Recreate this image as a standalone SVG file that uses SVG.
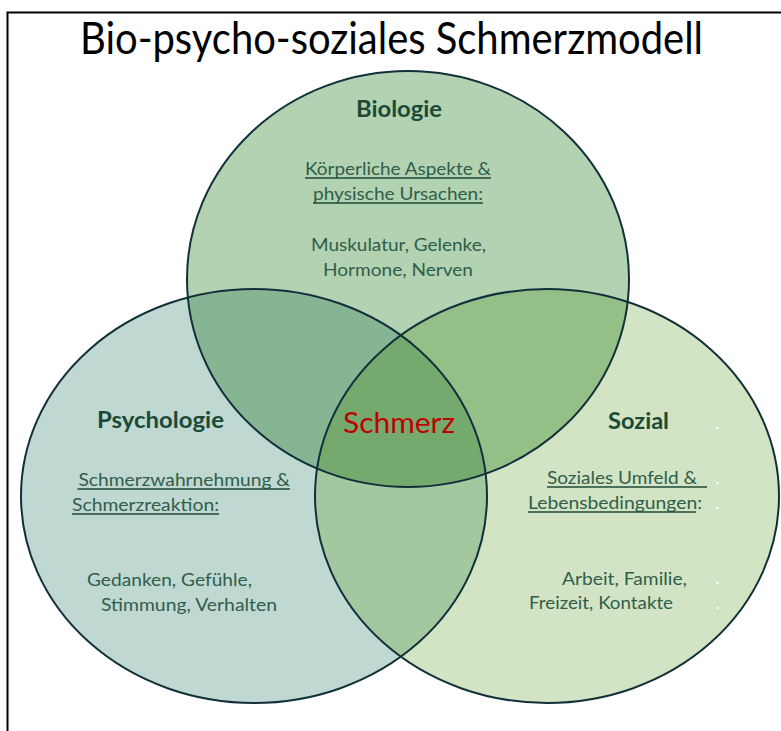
<svg xmlns="http://www.w3.org/2000/svg" width="781" height="731" viewBox="0 0 781 731">
<style>
.title{font-family:Lato,"Liberation Sans",sans-serif;font-size:44px;fill:#000}
.head{font-family:Lato,"Liberation Sans",sans-serif;font-size:23px;font-weight:bold;fill:#1b4a37}
.body{font-family:Lato,"Liberation Sans",sans-serif;font-size:17px;fill:#2f5e4b}
.center{font-family:Lato,"Liberation Sans",sans-serif;font-size:29px;fill:#c00000}
.ul{stroke:#1e4a3a;stroke-width:1.3}
.outline{fill:none;stroke:#12303a;stroke-width:2}
.dot{fill:#ffffff}
</style>
<defs>
<clipPath id="clipTop"><ellipse cx="408" cy="279" rx="221" ry="208"/></clipPath>
<clipPath id="clipLeft"><ellipse cx="254" cy="496" rx="233" ry="207"/></clipPath>
<clipPath id="clipRight"><ellipse cx="547" cy="496" rx="232" ry="207"/></clipPath>
</defs>
<rect width="781" height="731" fill="#ffffff"/>
<path d="M7.5,731 V12.5 H781" fill="none" stroke="#000" stroke-width="2"/>
<text class="title" x="80" y="54" textLength="623" lengthAdjust="spacingAndGlyphs">Bio-psycho-soziales Schmerzmodell</text>

<g id="fills">
<ellipse cx="254" cy="496" rx="233" ry="207" fill="#bfd8d2"/>
<ellipse cx="547" cy="496" rx="232" ry="207" fill="#d2e4c4"/>
<ellipse cx="408" cy="279" rx="221" ry="208" fill="#b3d2b2"/>
<ellipse cx="408" cy="279" rx="221" ry="208" fill="#86b594" clip-path="url(#clipLeft)"/>
<ellipse cx="408" cy="279" rx="221" ry="208" fill="#94bf87" clip-path="url(#clipRight)"/>
<ellipse cx="254" cy="496" rx="233" ry="207" fill="#a3c8a0" clip-path="url(#clipRight)"/>
<g clip-path="url(#clipLeft)">
<ellipse cx="408" cy="279" rx="221" ry="208" fill="#75aa6f" clip-path="url(#clipRight)"/>
</g>
</g>

<g id="connectors"></g>

<g id="node-biologie">
<ellipse class="outline" cx="408" cy="279" rx="221" ry="208"/>
<text class="head" x="356" y="116.5" textLength="86" lengthAdjust="spacingAndGlyphs">Biologie</text>
<text class="body" x="305" y="175" textLength="186" lengthAdjust="spacingAndGlyphs">Körperliche Aspekte &amp;</text>
<line class="ul" x1="305" y1="178" x2="491" y2="178"/>
<text class="body" x="313" y="200" textLength="170" lengthAdjust="spacingAndGlyphs">physische Ursachen:</text>
<line class="ul" x1="313" y1="203" x2="483" y2="203"/>
<text class="body" x="311" y="251" textLength="175" lengthAdjust="spacingAndGlyphs">Muskulatur, Gelenke,</text>
<text class="body" x="323" y="276" textLength="150" lengthAdjust="spacingAndGlyphs">Hormone, Nerven</text>
</g>

<g id="node-psychologie">
<ellipse class="outline" cx="254" cy="496" rx="233" ry="207"/>
<text class="head" x="97" y="428" textLength="127" lengthAdjust="spacingAndGlyphs">Psychologie</text>
<text class="body" x="78.5" y="486" textLength="211.5" lengthAdjust="spacingAndGlyphs">Schmerzwahrnehmung &amp;</text>
<line class="ul" x1="77.5" y1="489" x2="290" y2="489"/>
<text class="body" x="72" y="511" textLength="147" lengthAdjust="spacingAndGlyphs">Schmerzreaktion:</text>
<line class="ul" x1="72" y1="514" x2="219" y2="514"/>
<text class="body" x="87" y="586" textLength="165" lengthAdjust="spacingAndGlyphs">Gedanken, Gefühle,</text>
<text class="body" x="101" y="611" textLength="176" lengthAdjust="spacingAndGlyphs">Stimmung, Verhalten</text>
</g>

<g id="node-sozial">
<ellipse class="outline" cx="547" cy="496" rx="232" ry="207"/>
<text class="head" x="608" y="429" textLength="61" lengthAdjust="spacingAndGlyphs">Sozial</text>
<text class="body" x="547" y="484" textLength="150" lengthAdjust="spacingAndGlyphs">Soziales Umfeld &amp;</text>
<line class="ul" x1="547" y1="487" x2="707" y2="487"/>
<text class="body" x="528" y="509" textLength="174" lengthAdjust="spacingAndGlyphs">Lebensbedingungen:</text>
<line class="ul" x1="528" y1="512" x2="696" y2="512"/>
<text class="body" x="562" y="585" textLength="125" lengthAdjust="spacingAndGlyphs">Arbeit, Familie,</text>
<text class="body" x="529" y="609" textLength="144" lengthAdjust="spacingAndGlyphs">Freizeit, Kontakte</text>
<rect class="dot" x="716.5" y="427" width="2" height="2"/>
<rect class="dot" x="716.5" y="482" width="2" height="2"/>
<rect class="dot" x="716.5" y="507" width="2" height="2"/>
<rect class="dot" x="716.5" y="582" width="2" height="2"/>
<rect class="dot" x="716.5" y="607" width="2" height="2"/>
</g>

<g id="node-schmerz">
<text class="center" x="343" y="433" textLength="112" lengthAdjust="spacingAndGlyphs">Schmerz</text>
</g>
</svg>
